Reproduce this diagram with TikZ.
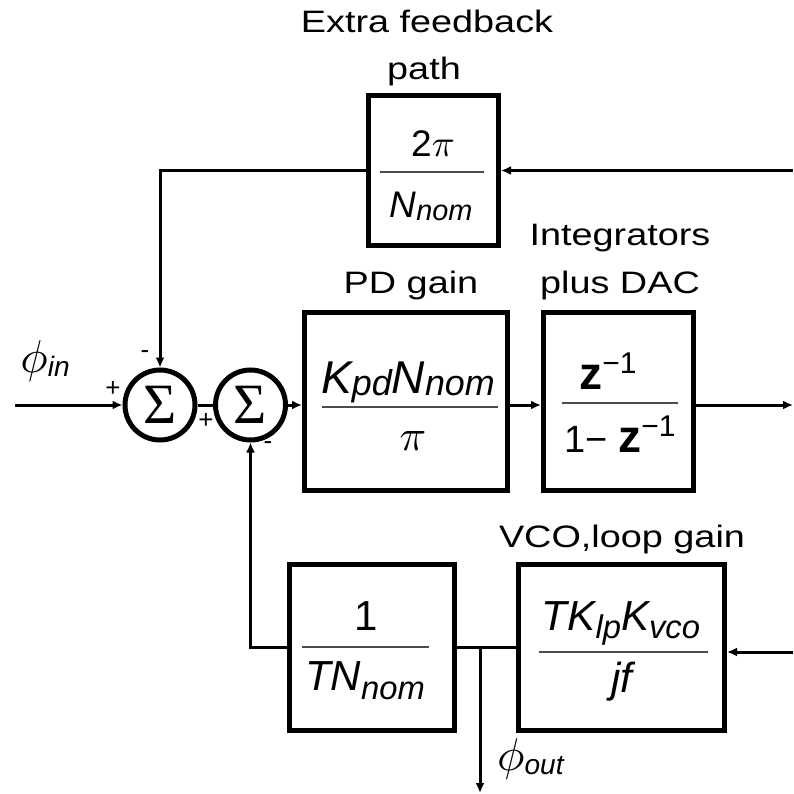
\documentclass[tikz,border=0pt]{standalone}
\usepackage{fontspec}
\usepackage{graphicx}
\setmainfont{Liberation Sans}
\newfontfamily\lblfont{Liberation Sans}[FakeStretch=1.22]
\newfontfamily\sigfont{Liberation Serif}
\usetikzlibrary{arrows.meta}
\newcommand{\fsz}[1]{\fontsize{#1}{#1}\selectfont}
\newcommand{\sbx}[2][0.12em]{\raisebox{-#1}{\scalebox{0.78}{#2}}}
\newcommand{\bigpi}[1]{\scalebox{#1}{\normalsize$\pi$}}
\newcommand{\bigphi}[1]{\scalebox{#1}{\normalsize$\phi$}}
\begin{document}
\begin{tikzpicture}[x=1pt,y=-1pt,
  blk/.style={draw, line width=5pt, inner sep=0pt},
  sumn/.style={draw, circle, line width=5pt, minimum size=70pt, inner sep=0pt, font=\sigfont\fsz{57}},
  con/.style={line width=3pt},
  arr/.style={con, -{Latex[length=10pt,width=9pt]}},
  frl/.style={line width=1.5pt, black!70},
  lbl/.style={font=\lblfont\fsz{31}, anchor=base, inner sep=0pt},
  mth/.style={anchor=base, inner sep=0pt},
  sgn/.style={font=\fsz{26}, inner sep=0pt}
]
\useasboundingbox (0,0) rectangle (793,794);

% blocks
\node[blk, minimum width=130pt, minimum height=150pt] (fb) at (433.5,170.5) {};
\node[blk, minimum width=203pt, minimum height=178pt] (pd) at (406,401.5) {};
\node[blk, minimum width=150pt, minimum height=178pt] (int) at (618.5,401.5) {};
\node[blk, minimum width=165pt, minimum height=166pt] (tn) at (372,647.5) {};
\node[blk, minimum width=206pt, minimum height=166pt] (vco) at (621.5,647.5) {};
\node[sumn] (s1) at (160,405) {Σ};
\node[sumn] (s2) at (250.5,405) {Σ};

% fractions
\node[mth] (fbn) at (433,157) {\fsz{37}2\bigpi{3.8}};
\draw[frl] (380,172) -- (484,172);
\node[mth] (fbd) at (431,218) {\fsz{37}\itshape N\sbx[0.06em]{nom}};

\node[mth] (pdn) at (408,393) {\fsz{46}\itshape K\sbx[0.06em]{pd}N\sbx[0.06em]{nom}};
\draw[frl] (322,407) -- (498,407);
\node[mth] (pdd) at (413,450) {\bigpi{4.4}};

\node[mth] (intn) at (608,389) {{\fsz{46}\textbf{z}}\raisebox{16pt}{\fsz{30}−1}};
\draw[frl] (562,403) -- (678,403);
\node[mth] (intd) at (620,452) {\fsz{38}1− {\fsz{46}\textbf{z}}\raisebox{16pt}{\fsz{30}−1}};

\node[mth] (tnn) at (366,630) {\fsz{42}1};
\draw[frl] (302,647) -- (429,647);
\node[mth] (tnd) at (365,690) {\fsz{42}\itshape TN\sbx[0.22em]{nom}};

\node[mth] (vcon) at (621,630) {\fsz{42}\itshape TK\sbx[0.2em]{lp}K\sbx[0.2em]{vco}};
\draw[frl] (539,652) -- (708,652);
\node[mth] (vcod) at (622,692) {\fsz{42}\itshape jf};

% labels
\node[lbl] (l1) at (427,33) {Extra feedback};
\node[lbl] (l2) at (424,80) {path};
\node[lbl] (l3) at (411,293) {PD gain};
\node[lbl] (l4) at (620,245) {Integrators};
\node[lbl] (l5) at (620,293) {plus DAC};
\node[lbl] (l6) at (622,547) {VCO,loop gain};

\node[mth] (phin) at (45,372) {\fsz{36}\bigphi{4.6}\itshape\sbx{in}};
\node[mth, anchor=base west] (phout) at (497,770) {\fsz{36}\bigphi{4.6}\itshape\sbx{out}};

% signs
\node[sgn] (m1) at (145,355) {-};
\node[sgn] (p1) at (113,389) {+};
\node[sgn] (p2) at (206,421) {+};
\node[sgn] (m2) at (268,446) {-};

% connectors
\coordinate (inL) at (15,405);
\draw[arr] (inL) -- (s1.west);
\draw[con] (s1.east) -- (s2.west);
\draw[arr] (s2.east) -- (pd.west |- s2.east);
\draw[arr] (pd.east |- s2.east) -- (int.west |- s2.east);
\coordinate (outR) at (793,405);
\draw[arr] (int.east |- outR) -- (outR);
\coordinate (fbR) at (793,170.5);
\draw[arr] (fbR) -- (fb.east);
\draw[arr] (fb.west) -| (s1.north);
\coordinate (vcoR) at (793,652);
\draw[arr] (vcoR) -- (vco.east |- vcoR);
\draw[con] (vco.west) -- (tn.east);
\coordinate (tap) at (480,647.5);
\coordinate (tapE) at (480,793);
\draw[arr] (tap) -- (tapE);
\draw[arr] (tn.west) -| (s2.south);
\end{tikzpicture}
\end{document}
